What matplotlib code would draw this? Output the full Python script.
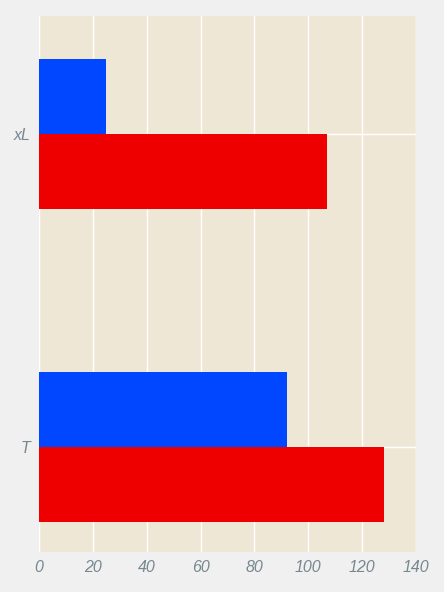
import numpy as np
from matplotlib import pyplot as plt

categories = ['T', 'xL']
blue_values = [92, 25]
red_values = [128, 107]

plt.rcParams['font.family'] = ['Liberation Sans', 'DejaVu Sans']

fig = plt.figure(figsize=(4.44, 5.92), dpi=100, facecolor='#F0F0F0')
ax = fig.add_axes([0.0878, 0.0676, 0.849, 0.9054])
ax.set_facecolor('#EFE7D6')

y = np.arange(len(categories))
h = 0.24
ax.barh(y + h / 2, blue_values, height=h, color='#0047FF', zorder=2)
ax.barh(y - h / 2, red_values, height=h, color='#EE0000', zorder=2)

ax.set_xlim(0, 140)
ax.set_ylim(-0.335, 1.377)
ax.set_xticks(np.arange(0, 141, 20))
ax.set_yticks(y)
ax.set_yticklabels(categories)

ax.grid(True, color='white', linewidth=1, zorder=1)
ax.set_axisbelow(True)
for s in ax.spines.values():
    s.set_visible(False)
ax.tick_params(length=0, colors='#788890', labelsize=11.5, pad=6)
for lab in ax.get_xticklabels() + ax.get_yticklabels():
    lab.set_fontstyle('italic')

plt.savefig('out.png', facecolor=fig.get_facecolor())
